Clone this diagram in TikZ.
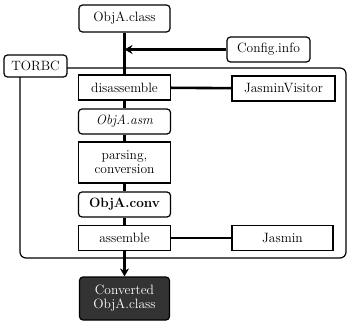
\documentclass[tikz,border=0pt]{standalone}
\usetikzlibrary{arrows.meta}
\begin{document}
\begin{tikzpicture}[x=1pt,y=-1pt,font=\fontsize{13.5}{14}\selectfont,
  blk/.style n args={2}{draw,line width=1.2pt,fill=white,inner sep=1pt,minimum width=#1,minimum height=#2},
  rblk/.style n args={2}{blk={#1}{#2},rounded corners=3.5pt},
  link/.style={line width=2.6pt},
  flow/.style={line width=2.6pt,-{Stealth[length=8pt,width=9pt]}}]
\useasboundingbox (0,0) rectangle (348,321);
\draw[line width=1.2pt,rounded corners=6pt] (20,68) rectangle (346,258);
\node[rblk={63pt}{22pt}] (torbc) at (35.5,66) {TORBC};
\node[rblk={91pt}{27pt}] (objclass) at (124.5,18.5) {ObjA.class};
\node[rblk={83pt}{25pt}] (config) at (268.5,49.5) {Config.info};
\node[blk={92pt}{25pt}] (disasm) at (124.5,87.5) {disassemble};
\node[blk={103pt}{25pt}] (visitor) at (283.5,88.5) {JasminVisitor};
\node[rblk={92pt}{25pt},font=\fontsize{13.5}{14}\selectfont\itshape] (objasm) at (124.5,121.5) {ObjA.asm};
\node[blk={92pt}{41pt},align=center] (parsing) at (124.5,162.5) {parsing,\\conversion};
\node[rblk={92pt}{25pt},font=\fontsize{13.5}{14}\selectfont\bfseries] (objconv) at (124.5,204.5) {ObjA.conv};
\node[blk={92pt}{25pt}] (asmbl) at (124.5,238) {assemble};
\node[blk={101pt}{25pt}] (jasmin) at (282.5,238) {Jasmin};
\node[rblk={90pt}{43pt},fill=black!80,text=white,align=center] (converted) at (124.5,298.5) {Converted\\ObjA.class};
\coordinate (join) at (124.5,49.5);
% main flow
\draw[link] (objclass) -- (disasm);
\draw[flow] (config) -- (join);
\draw[link] (disasm) -- (objasm);
\draw[link] (objasm) -- (parsing);
\draw[link] (parsing) -- (objconv);
\draw[link] (objconv) -- (asmbl);
\draw[flow] (asmbl) -- (converted);
% tools
\draw[link] (disasm) -- (visitor);
\draw[link] (asmbl) -- (jasmin);
\end{tikzpicture}
\end{document}
